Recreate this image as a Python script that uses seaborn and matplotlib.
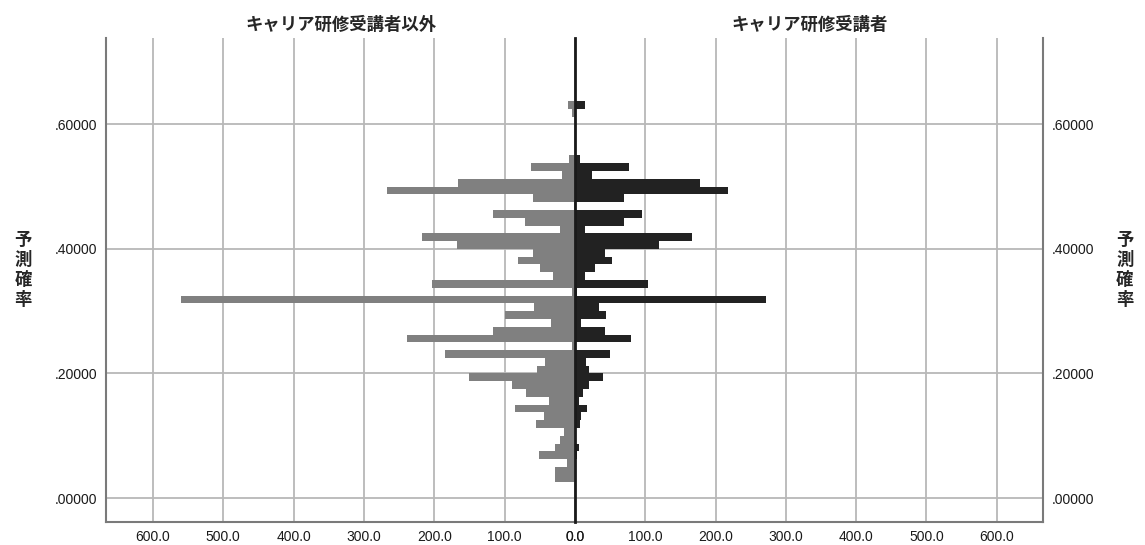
import numpy as np
import pandas as pd
import matplotlib
matplotlib.use("Agg")
import matplotlib.pyplot as plt
import seaborn as sns

# histogram bins of the predicted probability (lower edge of first bin, width)
bin_start = 0.025
bin_width = 0.0125

# counts per bin, from the lowest bin upward
counts_other = [29, 29, 11, 51, 29, 21, 15, 56, 44, 86,
                37, 70, 90, 150, 54, 43, 185, 4, 239, 116,
                34, 100, 59, 560, 4, 203, 32, 50, 81, 60,
                168, 217, 22, 71, 117, 2, 60, 267, 166, 18,
                62, 9, 0, 0, 0, 0, 0, 5, 10]
counts_trained = [1, 1, 1, 3, 5, 2, 2, 7, 8, 17,
                  6, 11, 20, 40, 20, 16, 50, 2, 79, 43,
                  9, 44, 34, 272, 3, 104, 14, 28, 52, 43,
                  119, 166, 14, 69, 95, 1, 70, 218, 178, 24,
                  77, 7, 0, 0, 0, 0, 0, 0, 14]

title_other = "キャリア研修受講者以外"
title_trained = "キャリア研修受講者"
y_label = "予\n測\n確\n率"
x_ticks = [0, 100, 200, 300, 400, 500, 600]
y_ticks = [0.0, 0.2, 0.4, 0.6]

n_bins = len(counts_other)
bin_end = bin_start + bin_width * n_bins
mids = bin_start + bin_width * (np.arange(n_bins) + 0.5)
df = pd.DataFrame({
    "prob": np.concatenate([mids, mids]),
    "count": counts_other + counts_trained,
    "group": ["other"] * n_bins + ["trained"] * n_bins,
})

sns.set_style("white")
plt.rcParams["font.family"] = ["Liberation Sans", "Noto Sans CJK JP", "DejaVu Sans"]
cjk = ["Noto Sans CJK JP", "DejaVu Sans"]

fig = plt.figure(figsize=(11.45, 5.45), dpi=100)
ax_l = fig.add_axes([0.0926, 0.0428, 0.4096, 0.8875])
ax_r = fig.add_axes([0.5022, 0.0428, 0.4090, 0.8875])

sns.histplot(data=df[df["group"] == "other"], y="prob", weights="count",
             binwidth=bin_width, binrange=(bin_start, bin_end),
             color="#808080", alpha=1, linewidth=0, ax=ax_l)
sns.histplot(data=df[df["group"] == "trained"], y="prob", weights="count",
             binwidth=bin_width, binrange=(bin_start, bin_end),
             color="#222222", alpha=1, linewidth=0, ax=ax_r)

grid_c = "#b8b8b8"
spine_c = "#7a7a7a"
for ax in (ax_l, ax_r):
    ax.set_ylim(-0.038, 0.7386)
    ax.set_xticks(x_ticks)
    ax.set_xticklabels([f"{v:.1f}" for v in x_ticks])
    ax.set_yticks(y_ticks)
    ax.grid(True, color=grid_c, linewidth=1.3)
    ax.set_axisbelow(True)
    ax.set_xlabel("")
    ax.tick_params(length=0, labelsize=10, colors="#1a1a1a", pad=6)
    ax.spines["top"].set_visible(False)
    ax.spines["bottom"].set_color(spine_c)
    ax.spines["bottom"].set_linewidth(1.5)

ax_l.set_xlim(666.5, 0)
ax_r.set_xlim(0, 666.5)

ax_l.spines["left"].set_color(spine_c)
ax_l.spines["left"].set_linewidth(1.5)
ax_l.spines["right"].set_visible(False)
ax_r.spines["right"].set_color(spine_c)
ax_r.spines["right"].set_linewidth(1.5)
ax_r.spines["left"].set_color("#1a1a1a")
ax_r.spines["left"].set_linewidth(2)
ax_r.spines["left"].set_zorder(5)

fmt = [f"{v:.5f}".lstrip("0") for v in y_ticks]
ax_l.set_yticklabels(fmt)
ax_r.yaxis.tick_right()
ax_r.set_yticklabels(fmt)

ax_l.set_ylabel(y_label, rotation=0, fontsize=12.5, fontweight="bold",
                family=cjk, linespacing=1.15, va="center", ha="center")
ax_l.yaxis.set_label_coords(-0.177, 0.52)
ax_r.yaxis.set_label_position("right")
ax_r.set_ylabel(y_label, rotation=0, fontsize=12.5, fontweight="bold",
                family=cjk, linespacing=1.15, va="center", ha="center")
ax_r.yaxis.set_label_coords(1.174, 0.52)

ax_l.set_title(title_other, fontsize=12.5, fontweight="bold", family=cjk, pad=6)
ax_r.set_title(title_trained, fontsize=12.5, fontweight="bold", family=cjk, pad=6)

fig.savefig("out.png", dpi=100)
